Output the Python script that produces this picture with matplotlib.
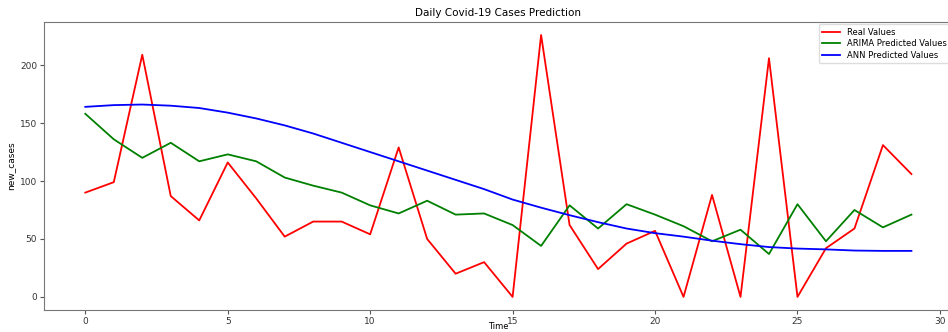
import matplotlib
matplotlib.use("Agg")
import matplotlib.pyplot as plt

time = list(range(30))
real_values = [90, 99, 209, 87, 66, 116, 85, 52, 65, 65, 54, 129, 50, 20, 30,
               0, 226, 62, 24, 46, 57, 0, 88, 0, 206, 0, 42, 59, 131, 106]
arima_values = [158, 136, 120, 133, 117, 123, 117, 103, 96, 90, 79, 72, 83, 71, 72,
                62, 44, 79, 59, 80, 71, 61, 48, 58, 37, 80, 48, 75, 60, 71]
ann_values = [164, 165.5, 166, 165, 163, 159, 154, 148, 141, 133, 125, 117, 109, 101, 93,
              84, 77, 70.5, 64.5, 59, 55, 52, 48.5, 45.5, 43, 41.7, 41, 40, 39.7, 39.7]

fig = plt.figure(figsize=(9.48, 3.32), dpi=100)
ax = fig.add_axes([0.0464, 0.0663, 0.9586, 0.8677])

ax.plot(time, real_values, color="red", lw=1.3, label="Real Values")
ax.plot(time, arima_values, color="green", lw=1.3, label="ARIMA Predicted Values")
ax.plot(time, ann_values, color="blue", lw=1.3, label="ANN Predicted Values")

ax.set_title("Daily Covid-19 Cases Prediction", fontsize=7.5, pad=4)
ax.set_xlabel("Time", fontsize=6, labelpad=-2.5)
ax.set_ylabel("new_cases", fontsize=6.5, labelpad=3)
ax.tick_params(labelsize=6.5, length=3, color="#555555", labelcolor="#333333", pad=2)
for s in ax.spines.values():
    s.set_color("#777777")
ax.legend(loc="upper right", fontsize=6, framealpha=1, edgecolor="#dddddd",
          handlelength=2.2, borderpad=0.4, borderaxespad=0.3, labelspacing=0.3)

fig.savefig("out.png", dpi=100)
